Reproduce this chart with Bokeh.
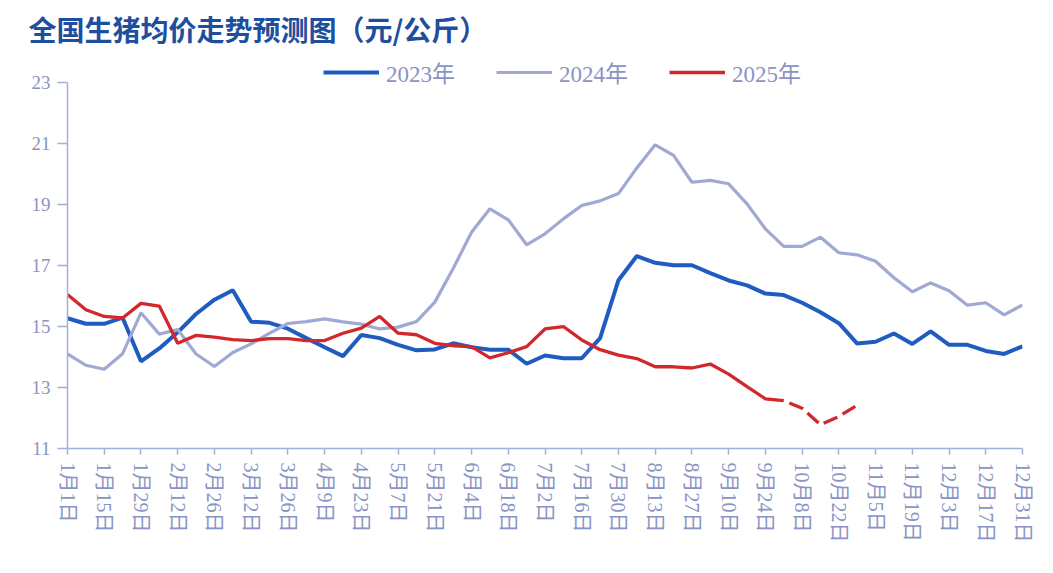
from bokeh.plotting import figure
from bokeh.models import Range1d, FixedTicker, Legend, LegendItem
from bokeh.embed import file_html
from bokeh.resources import INLINE

# ---------------- data ----------------
title_text = "全国生猪均价走势预测图（元/公斤）"

tick_labels = ["1月1日", "1月15日", "1月29日", "2月12日", "2月26日", "3月12日", "3月26日",
               "4月9日", "4月23日", "5月7日", "5月21日", "6月4日", "6月18日", "7月2日",
               "7月16日", "7月30日", "8月13日", "8月27日", "9月10日", "9月24日", "10月8日",
               "10月22日", "11月5日", "11月19日", "12月3日", "12月17日", "12月31日"]

weeks = list(range(53))

price_2023 = [15.27, 15.09, 15.09, 15.29, 13.86, 14.28, 14.81, 15.41, 15.88, 16.19,
              15.16, 15.12, 14.93, 14.62, 14.32, 14.03, 14.72, 14.62, 14.40, 14.22,
              14.25, 14.45, 14.32, 14.24, 14.24, 13.78, 14.05, 13.96, 13.96, 14.62,
              16.52, 17.31, 17.09, 17.01, 17.01, 16.75, 16.51, 16.35, 16.08, 16.03,
              15.78, 15.47, 15.11, 14.44, 14.50, 14.77, 14.43, 14.84, 14.40, 14.40,
              14.20, 14.10, 14.35]

price_2024 = [14.10, 13.73, 13.60, 14.11, 15.45, 14.75, 14.90, 14.10, 13.69, 14.15,
              14.43, 14.78, 15.10, 15.16, 15.25, 15.15, 15.08, 14.92, 14.98, 15.16,
              15.80, 16.90, 18.09, 18.86, 18.50, 17.68, 18.04, 18.53, 18.97, 19.12,
              19.36, 20.20, 20.96, 20.61, 19.73, 19.79, 19.68, 19.02, 18.20, 17.63,
              17.63, 17.93, 17.42, 17.35, 17.14, 16.60, 16.14, 16.43, 16.17, 15.70,
              15.78, 15.38, 15.71]

price_2025 = [16.05, 15.55, 15.33, 15.28, 15.76, 15.67, 14.45, 14.71, 14.65, 14.57,
              14.54, 14.60, 14.60, 14.54, 14.54, 14.78, 14.95, 15.33, 14.78, 14.73,
              14.45, 14.37, 14.34, 13.97, 14.14, 14.34, 14.92, 15.00, 14.56, 14.24,
              14.06, 13.95, 13.68, 13.68, 13.64, 13.77, 13.44, 13.03, 12.63, 12.57]

forecast_weeks = [39, 40, 41, 42, 43]
forecast_2025 = [12.57, 12.32, 11.78, 12.05, 12.42]

series_names = ["2023年", "2024年", "2025年"]
y_ticks = [11, 13, 15, 17, 19, 21, 23]

# ---------------- styles ----------------
C23 = "#1f5cbf"
C24 = "#a0a8d4"
C25 = "#d2282b"
AXIS = "#a4b0dc"
LABEL = "#8a94c4"
SERIF = "'Liberation Serif', 'Noto Sans CJK SC'"

p = figure(width=1036, height=556, output_backend="svg", toolbar_location=None,
           x_range=Range1d(0, 52), y_range=Range1d(11, 23.92),
           min_border_left=67, min_border_right=14, min_border_top=53,
           min_border_bottom=108)
p.outline_line_color = None
p.xgrid.visible = False
p.ygrid.visible = False
p.background_fill_color = "white"
p.border_fill_color = "white"

p.title.text = title_text
p.title.text_font = "Noto Sans CJK SC"
p.title.text_font_style = "bold"
p.title.text_font_size = "28px"
p.title.text_color = "#1d4f9e"
p.title.align = "left"
p.title.offset = -39
p.title.standoff = 12

# y axis
ya = p.yaxis[0]
ya.ticker = FixedTicker(ticks=y_ticks)
ya.bounds = (11, 23)
ya.axis_line_color = AXIS
ya.axis_line_width = 1.5
ya.major_tick_line_color = AXIS
ya.major_tick_line_width = 1.5
ya.major_tick_in = 0
ya.major_tick_out = 10
ya.minor_tick_line_color = None
ya.major_label_standoff = 7
ya.major_label_text_font = SERIF
ya.major_label_text_font_size = "19px"
ya.major_label_text_color = LABEL

# x axis
xa = p.xaxis[0]
tick_pos = list(range(0, 53, 2))
xa.ticker = FixedTicker(ticks=tick_pos)
xa.major_label_overrides = {t: lab for t, lab in zip(tick_pos, tick_labels)}
xa.major_label_orientation = "vertical"
xa.axis_line_color = AXIS
xa.axis_line_width = 1.5
xa.major_tick_line_color = AXIS
xa.major_tick_line_width = 1.5
xa.major_tick_in = 0
xa.major_tick_out = 6
xa.minor_tick_line_color = None
xa.major_label_standoff = 8
xa.major_label_text_font = SERIF
xa.major_label_text_font_size = "20px"
xa.major_label_text_color = LABEL

r23 = p.line(weeks, price_2023, line_color=C23, line_width=4)
r24 = p.line(weeks, price_2024, line_color=C24, line_width=3.2)
r25 = p.line(weeks[:len(price_2025)], price_2025, line_color=C25, line_width=3.3)
p.line(forecast_weeks, forecast_2025, line_color=C25, line_width=3.3,
       line_dash="15 6", line_dash_offset=15)

legend = Legend(items=[LegendItem(label=series_names[0], renderers=[r23]),
                       LegendItem(label=series_names[1], renderers=[r24]),
                       LegendItem(label=series_names[2], renderers=[r25])],
                orientation="horizontal", location=(256, 359),
                glyph_width=56, glyph_height=24, label_height=24, label_standoff=7,
                spacing=41, padding=0, margin=0,
                border_line_color=None, background_fill_alpha=0,
                label_text_font=SERIF, label_text_font_size="23px",
                label_text_color=LABEL)
p.add_layout(legend)

open("out.html", "w").write(file_html(p, INLINE))
